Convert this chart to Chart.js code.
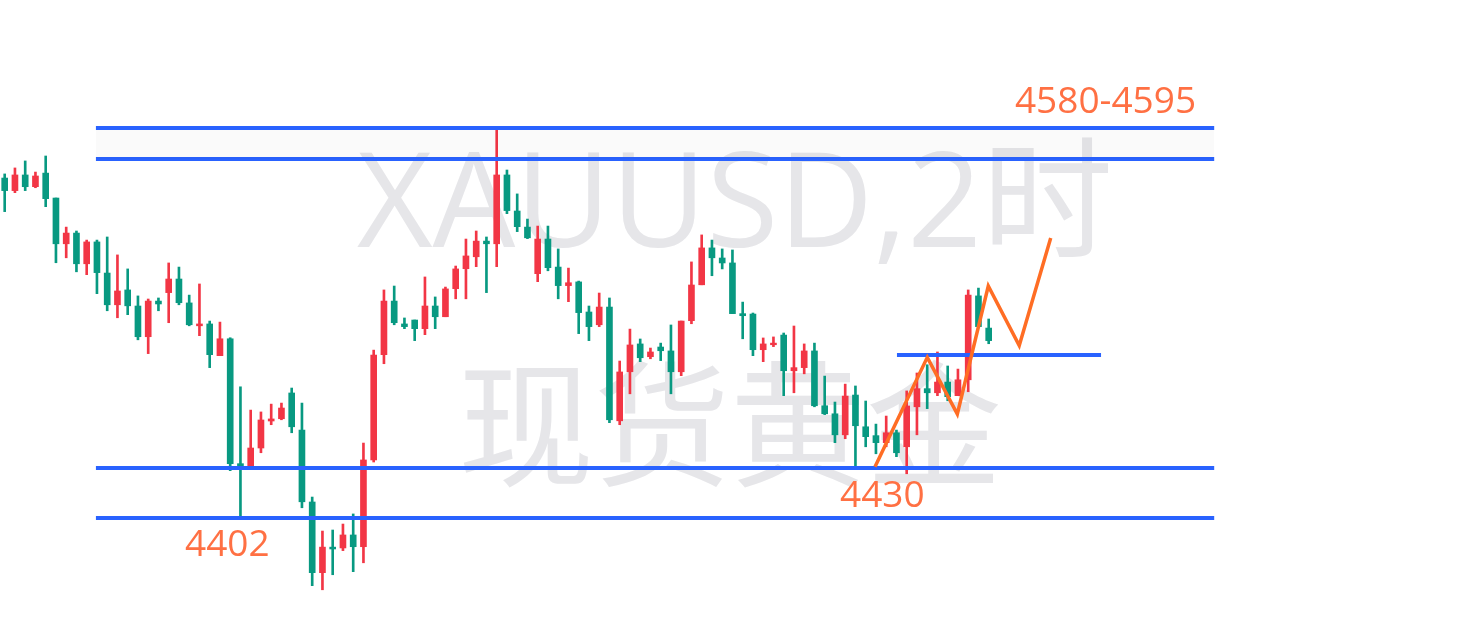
<!DOCTYPE html>
<html>
<head>
<meta charset="utf-8">
<script src="https://cdn.jsdelivr.net/npm/chart.js@4/dist/chart.umd.min.js"></script>
<style>
  html, body { margin: 0; padding: 0; background: #ffffff; }
  #wrap { width: 1482px; height: 638px; position: relative; }
</style>
</head>
<body>
<div id="wrap"><canvas id="KChart"></canvas></div>
<script>
// 2h candles, XAUUSD (index 0 = left edge)
const opens = [4570.7, 4564.6, 4572.2, 4566.5, 4573.1, 4561.0, 4538.8, 4544.0, 4529.1, 4539.7,
  4524.6, 4509.2, 4516.4, 4508.6, 4493.7, 4511.0, 4515.1, 4521.7, 4510.1, 4499.0,
  4499.9, 4484.5, 4492.7, 4432.1, 4430.6, 4439.7, 4452.8, 4453.9, 4466.4, 4448.4,
  4413.5, 4379.2, 4391.6, 4391.2, 4397.5, 4391.8, 4433.9, 4485.0, 4511.0, 4499.9,
  4501.8, 4497.6, 4508.6, 4503.4, 4517.0, 4526.7, 4532.5, 4540.1, 4538.8, 4572.2,
  4554.7, 4546.9, 4524.3, 4541.1, 4527.5, 4518.5, 4520.3, 4505.7, 4499.5, 4508.1,
  4452.9, 4476.7, 4490.2, 4484.0, 4488.7, 4486.8, 4476.7, 4501.5, 4518.9, 4536.8,
  4531.9, 4529.5, 4504.9, 4504.7, 4487.4, 4489.8, 4494.5, 4477.2, 4478.7, 4486.8,
  4460.2, 4456.3, 4446.1, 4465.4, 4450.0, 4445.7, 4442.3, 4447.1, 4440.3, 4459.7,
  4468.5, 4466.5, 4471.7, 4465.1, 4472.8, 4513.5, 4497.9];
const highs = [4572.7, 4575.6, 4579.0, 4573.6, 4581.4, 4561.0, 4546.9, 4545.0, 4540.6, 4540.6,
  4542.1, 4533.4, 4526.6, 4513.5, 4512.0, 4512.5, 4529.5, 4527.5, 4513.9, 4519.3,
  4501.3, 4500.8, 4493.2, 4469.4, 4458.1, 4457.2, 4461.0, 4461.5, 4468.8, 4461.5,
  4415.9, 4399.4, 4399.9, 4402.8, 4407.7, 4442.1, 4487.2, 4516.4, 4518.3, 4502.8,
  4501.8, 4522.7, 4513.0, 4517.8, 4528.0, 4541.1, 4545.0, 4542.1, 4594.0, 4574.6,
  4563.0, 4550.8, 4547.4, 4547.4, 4536.3, 4527.0, 4520.7, 4508.6, 4514.9, 4512.5,
  4481.9, 4497.4, 4492.6, 4488.2, 4490.6, 4499.4, 4501.3, 4530.0, 4543.1, 4540.6,
  4536.3, 4535.8, 4510.5, 4505.2, 4493.1, 4493.6, 4495.5, 4498.9, 4490.2, 4490.6,
  4474.6, 4462.0, 4470.7, 4469.8, 4462.5, 4451.3, 4455.2, 4448.4, 4467.4, 4476.1,
  4480.1, 4486.3, 4479.5, 4478.0, 4516.4, 4517.3, 4502.3];
const lows = [4554.4, 4563.6, 4564.6, 4566.0, 4556.8, 4529.6, 4532.0, 4525.2, 4523.8, 4514.6,
  4506.3, 4502.9, 4504.4, 4492.2, 4485.5, 4506.3, 4500.5, 4509.2, 4499.0, 4494.2,
  4478.7, 4484.5, 4428.7, 4406.4, 4430.6, 4437.4, 4451.0, 4453.4, 4447.1, 4410.7,
  4372.9, 4370.9, 4378.2, 4389.9, 4379.7, 4384.0, 4432.9, 4480.6, 4499.5, 4497.6,
  4491.8, 4494.7, 4497.6, 4503.4, 4512.1, 4512.1, 4527.7, 4515.1, 4527.7, 4553.4,
  4544.7, 4541.3, 4520.4, 4525.7, 4512.1, 4510.7, 4495.2, 4491.8, 4498.6, 4452.0,
  4451.0, 4466.0, 4481.6, 4483.0, 4482.1, 4466.0, 4474.8, 4500.0, 4518.9, 4523.3,
  4526.6, 4504.9, 4492.7, 4484.5, 4481.6, 4488.9, 4465.1, 4466.5, 4475.7, 4459.7,
  4455.9, 4442.3, 4444.2, 4430.6, 4440.3, 4436.9, 4440.3, 4435.5, 4427.2, 4446.1,
  4458.8, 4465.1, 4462.6, 4465.1, 4467.0, 4498.6, 4490.3];
const closes = [4564.6, 4572.2, 4566.5, 4571.7, 4560.7, 4538.8, 4544.0, 4529.1, 4539.7, 4524.8,
  4509.2, 4515.9, 4508.7, 4493.7, 4511.0, 4509.6, 4521.7, 4510.2, 4499.5, 4499.9,
  4485.0, 4492.7, 4432.1, 4430.5, 4439.7, 4453.3, 4453.8, 4459.1, 4450.0, 4413.6,
  4379.2, 4391.6, 4390.7, 4397.5, 4391.8, 4433.9, 4484.8, 4511.0, 4500.5, 4498.6,
  4497.6, 4508.6, 4503.4, 4516.9, 4526.6, 4532.9, 4540.1, 4538.8, 4572.2, 4554.9,
  4547.1, 4541.7, 4541.1, 4527.2, 4518.5, 4519.9, 4505.4, 4498.6, 4508.1, 4453.4,
  4476.6, 4489.7, 4483.5, 4486.3, 4486.9, 4476.7, 4501.3, 4518.8, 4536.8, 4532.0,
  4529.5, 4504.9, 4503.9, 4487.4, 4490.2, 4490.6, 4477.2, 4478.7, 4486.8, 4460.2,
  4456.3, 4446.1, 4464.9, 4450.5, 4445.2, 4442.3, 4447.1, 4437.4, 4460.1, 4468.5,
  4466.5, 4471.7, 4464.6, 4472.8, 4513.9, 4498.6, 4491.8];

// horizontal levels: price, from index, to index
const levelPrices = [4595.0, 4580.0, 4430.0, 4405.7, 4484.8];
const levelFrom = [8.9, 8.9, 8.9, 8.9, 87.05];
const levelTo = [118.0, 118.0, 118.0, 118.0, 106.96];

// projected path
const pathX = [84.91, 90.01, 92.94, 95.96, 98.98, 102.05];
const pathY = [4430.6, 4483.7, 4456.2, 4518.3, 4489.4, 4541.6];

// text marks
const noteTexts = ['4580-4595', '4402', '4430'];
const noteX = [98.56, 17.59, 81.49];
const noteY = [4602.1, 4387.4, 4411.1];

const upColor = '#f23645';
const downColor = '#089981';
const levelColor = '#2962ff';
const pathColor = '#ff6d24';

const candleColors = opens.map((o, i) => closes[i] >= o ? upColor : downColor);

const wickData = lows.map((l, i) => ({ x: i, y: [l, highs[i]] }));
const bodyData = opens.map((o, i) => ({ x: i, y: [o, closes[i]] }));

const levelSets = levelPrices.map((p, i) => ({
    type: 'line',
    data: [{ x: levelFrom[i], y: p }, { x: levelTo[i], y: p }],
    borderColor: levelColor,
    borderWidth: 4,
    pointRadius: 0,
    // light band between the two top levels
    fill: i === 0 ? '+1' : false,
    backgroundColor: 'rgba(0,0,0,0.02)',
    order: 0
}));

// big watermark behind candles
const watermark = {
    id: 'watermark',
    beforeDatasetsDraw(chart) {
        const ctx = chart.ctx;
        ctx.save();
        ctx.fillStyle = '#e6e6e9';
        ctx.textAlign = 'center';
        ctx.textBaseline = 'middle';
        ctx.font = '131px "Open Sans", "Noto Sans CJK SC", sans-serif';
        ctx.fillText('XAUUSD,2时', 735, 210);
        ctx.font = '136px "Noto Sans CJK SC", sans-serif';
        ctx.fillText('现货黄金', 730, 424);
        ctx.restore();
    }
};

// orange price notes
const notes = {
    id: 'notes',
    afterDatasetsDraw(chart) {
        const ctx = chart.ctx;
        const xs = chart.scales.x;
        const ys = chart.scales.y;
        ctx.save();
        ctx.fillStyle = '#ff7043';
        ctx.font = '37px "Open Sans", sans-serif';
        ctx.textAlign = 'left';
        ctx.textBaseline = 'alphabetic';
        noteTexts.forEach((t, i) => {
            ctx.fillText(t, xs.getPixelForValue(noteX[i]), ys.getPixelForValue(noteY[i]));
        });
        ctx.restore();
    }
};

const ctx = document.getElementById('KChart');
new Chart(ctx, {
    data: {
        datasets: [
            {
                type: 'bar',
                data: bodyData,
                backgroundColor: candleColors,
                borderWidth: 0,
                barThickness: 6,
                minBarLength: 1,
                grouped: false,
                order: 2
            },
            {
                type: 'bar',
                data: wickData,
                backgroundColor: candleColors,
                borderWidth: 0,
                barThickness: 2,
                grouped: false,
                order: 3
            },
            ...levelSets,
            {
                type: 'line',
                data: pathX.map((x, i) => ({ x: x, y: pathY[i] })),
                borderColor: pathColor,
                borderWidth: 3.5,
                borderJoinStyle: 'miter',
                pointRadius: 0,
                tension: 0,
                fill: false,
                order: -1
            }
        ]
    },
    options: {
        responsive: true,
        maintainAspectRatio: false,
        animation: false,
        layout: { padding: 0 },
        scales: {
            x: { type: 'linear', display: false, offset: false, min: -0.4585, max: 144.127 },
            y: { display: false, min: 4347.5, max: 4657.1 }
        },
        plugins: {
            legend: { display: false },
            tooltip: { enabled: false }
        }
    },
    plugins: [watermark, notes]
});
</script>
</body>
</html>
